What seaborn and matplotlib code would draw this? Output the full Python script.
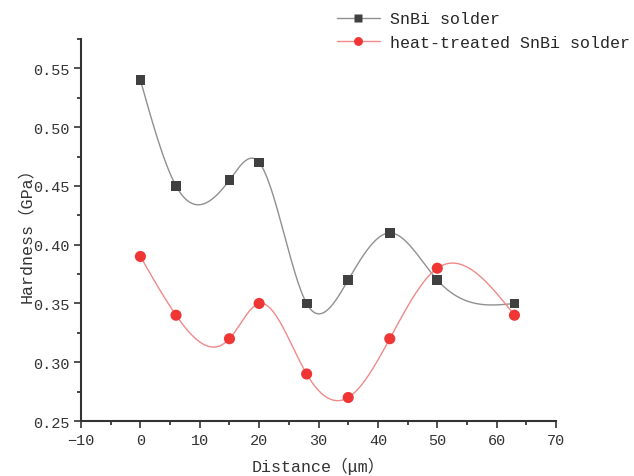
import numpy as np
import seaborn as sns
import matplotlib.pyplot as plt
from matplotlib.lines import Line2D
from matplotlib.ticker import MultipleLocator

distance = [0, 6, 15, 20, 28, 35, 42, 50, 63]
hard_snbi = [0.54, 0.45, 0.455, 0.47, 0.35, 0.37, 0.41, 0.37, 0.35]
hard_heat = [0.39, 0.34, 0.32, 0.35, 0.29, 0.27, 0.32, 0.38, 0.34]
labels = ['SnBi solder', 'heat-treated SnBi solder']


def natural_spline(x, y, n=400):
    # natural cubic spline through the points, for the smooth connecting line
    x = np.asarray(x, float)
    y = np.asarray(y, float)
    k = len(x)
    h = np.diff(x)
    A = np.zeros((k, k))
    b = np.zeros(k)
    A[0, 0] = A[-1, -1] = 1
    for i in range(1, k - 1):
        A[i, i - 1] = h[i - 1]
        A[i, i] = 2 * (h[i - 1] + h[i])
        A[i, i + 1] = h[i]
        b[i] = 3 * ((y[i + 1] - y[i]) / h[i] - (y[i] - y[i - 1]) / h[i - 1])
    c = np.linalg.solve(A, b)
    xs = np.linspace(x[0], x[-1], n)
    idx = np.clip(np.searchsorted(x, xs) - 1, 0, k - 2)
    dx = xs - x[idx]
    bb = (y[idx + 1] - y[idx]) / h[idx] - h[idx] * (2 * c[idx] + c[idx + 1]) / 3
    dd = (c[idx + 1] - c[idx]) / (3 * h[idx])
    ys = y[idx] + bb * dx + c[idx] * dx ** 2 + dd * dx ** 3
    return xs, ys


sns.set_style('ticks')
plt.rcParams['font.family'] = ['Liberation Mono', 'Noto Sans CJK SC', 'DejaVu Sans']

fig = plt.figure(figsize=(6.34, 4.77), dpi=100)
ax = fig.add_axes([0.1278, 0.1153, 0.7492, 0.8008])

styles = [('#909090', '#404040', 's', 7), ('#f08a8a', '#f03535', 'o', 8)]
handles = []
for vals, lab, (lc, mc, mk, ms) in zip([hard_snbi, hard_heat], labels, styles):
    xs, ys = natural_spline(distance, vals)
    sns.lineplot(x=xs, y=ys, color=lc, lw=1.0, ax=ax, sort=False)
    sns.scatterplot(x=distance, y=vals, marker=mk, color=mc, s=ms ** 2,
                    edgecolor='none', ax=ax, zorder=3)
    handles.append(Line2D([], [], color=lc, lw=1.0, marker=mk, markersize=ms * 0.8,
                          markerfacecolor=mc, markeredgecolor='none', label=lab))

ax.set_xlim(-10, 70)
ax.set_ylim(0.25, 0.575)
ax.xaxis.set_major_locator(MultipleLocator(10))
ax.xaxis.set_minor_locator(MultipleLocator(5))
ax.yaxis.set_major_locator(MultipleLocator(0.05))
ax.yaxis.set_minor_locator(MultipleLocator(0.025))
ax.yaxis.set_major_formatter(lambda v, p: f'{v:.2f}')
ax.tick_params(which='major', direction='out', length=5, width=1.2, labelsize=11, colors='#333333')
ax.tick_params(which='minor', direction='out', length=3, width=1.2)
for s in ['left', 'bottom']:
    ax.spines[s].set_linewidth(1.5)
    ax.spines[s].set_color('#333333')
sns.despine(ax=ax)

ax.set_xlabel('Distance（μm）', fontsize=12, color='#333333', labelpad=7)
ax.set_ylabel('Hardness（GPa）', fontsize=12, color='#333333', labelpad=-1)

fig.legend(handles=handles, loc='upper left', bbox_to_anchor=(0.515, 0.995),
           frameon=False, fontsize=12, handlelength=2.6, handletextpad=0.6,
           labelspacing=0.5, borderaxespad=0.2)

fig.savefig('out.png', dpi=100)
